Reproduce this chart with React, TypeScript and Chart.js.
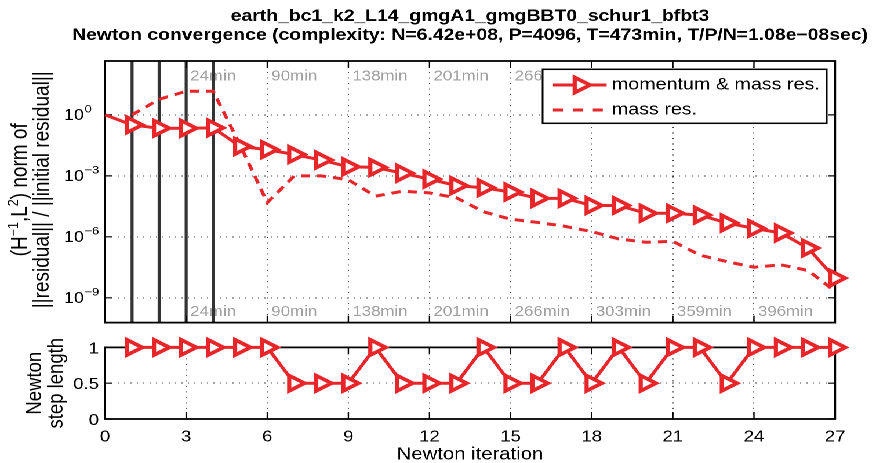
import React, { useEffect, useRef } from "react";
import { Chart, registerables } from "chart.js";

Chart.register(...registerables);

// ---------------- data ----------------
const iterations = [0, 1, 2, 3, 4, 5, 6, 7, 8, 9, 10, 11, 12, 13, 14, 15, 16, 17, 18, 19, 20, 21, 22, 23, 24, 25, 26, 27];
const momentumMassRes = [
  1, 0.32, 0.22, 0.22, 0.23, 0.028, 0.0195, 0.0112, 6.0e-3, 2.8e-3, 2.6e-3, 1.35e-3, 6.9e-4, 3.3e-4,
  2.6e-4, 1.6e-4, 7.8e-5, 7.8e-5, 3.5e-5, 3.5e-5, 1.45e-5, 1.45e-5, 1.17e-5, 4.8e-6, 2.6e-6, 1.55e-6, 2.8e-7, 9.3e-9,
];
const massRes = [
  null, 1.0, 5.8, 14.5, 14.5, 0.032, 4.8e-5, 1.0e-3, 1.0e-3, 6.4e-4, 1.0e-4, 1.75e-4, 1.45e-4, 8.3e-5,
  1.7e-5, 7.4e-6, 5.1e-6, 3.3e-6, 1.8e-6, 7.9e-7, 5.4e-7, 6.0e-7, 1.26e-7, 6.0e-8, 3.2e-8, 4.2e-8, 2.2e-8, 2.1e-9,
];
const stepLength = [
  null, 1, 1, 1, 1, 1, 1, 0.5, 0.5, 0.5, 1, 0.5, 0.5, 0.5, 1, 0.5, 0.5, 1, 0.5, 1, 0.5, 1, 1, 0.5, 1, 1, 1, 1,
];
const xTickValues = [0, 3, 6, 9, 12, 15, 18, 21, 24, 27];
const timeTickIters = [3, 6, 9, 12, 15, 18, 21, 24];
const timeLabels = ["24min", "90min", "138min", "201min", "266min", "303min", "359min", "396min"];
const residualTicks = [1e-9, 1e-6, 1e-3, 1];
const residualTickExp = ["\u22129", "\u22126", "\u22123", "0"];
const stepTicks = [0, 0.5, 1];
const stepTickLabels = ["0", "0.5", "1"];
const lineSearchIters = [1, 2, 3, 4];
const seriesNames = ["momentum & mass res.", "mass res."];
const titleLines = [
  "earth_bc1_k2_L14_gmgA1_gmgBBT0_schur1_bfbt3",
  "Newton convergence (complexity: N=6.42e+08, P=4096, T=473min, T/P/N=1.08e\u221208sec)",
];
const xAxisTitle = "Newton iteration";
const stepAxisTitle = ["Newton", "step length"];

// ---------------- layout ----------------
const W = 765;
const SX = 887 / W;
const H1 = 335;
const H2 = 128;
const PLOT_LEFT = 90.6;
const PLOT_RIGHT = 720.2;
const RED = "#e8262a";
const FONT = "'Liberation Sans', Arial, Helvetica, sans-serif";
const MARKER_R = 8.8;
const MARKER_BW = 3.6;

Chart.defaults.font.family = FONT;

type Part = { t: string; sup?: boolean };

function drawRich(ctx: CanvasRenderingContext2D, parts: Part[], x: number, y: number, base: number, sup: number, raise: number) {
  let w = 0;
  for (const p of parts) {
    ctx.font = `${p.sup ? sup : base}px ${FONT}`;
    w += ctx.measureText(p.t).width;
  }
  let cx = x - w / 2;
  ctx.textAlign = "left";
  ctx.textBaseline = "alphabetic";
  for (const p of parts) {
    ctx.font = `${p.sup ? sup : base}px ${FONT}`;
    ctx.fillText(p.t, cx, p.sup ? y - raise : y);
    cx += ctx.measureText(p.t).width;
  }
}

function drawBox(ctx: CanvasRenderingContext2D, a: any, xp: number[], yp: number[]) {
  ctx.save();
  ctx.strokeStyle = "#000";
  ctx.lineWidth = 1.2;
  ctx.beginPath();
  for (const px of xp) {
    ctx.moveTo(px, a.bottom);
    ctx.lineTo(px, a.bottom - 7);
    ctx.moveTo(px, a.top);
    ctx.lineTo(px, a.top + 7);
  }
  for (const py of yp) {
    ctx.moveTo(a.left, py);
    ctx.lineTo(a.left + 6, py);
    ctx.moveTo(a.right, py);
    ctx.lineTo(a.right - 6, py);
  }
  ctx.stroke();
  ctx.lineWidth = 1.8;
  ctx.strokeRect(a.left, a.top, a.right - a.left, a.bottom - a.top);
  ctx.restore();
}

function drawMarker(ctx: CanvasRenderingContext2D, cx: number, cy: number, r: number) {
  ctx.save();
  ctx.beginPath();
  ctx.moveTo(cx + r, cy);
  ctx.lineTo(cx - r / 2, cy - 0.866 * r);
  ctx.lineTo(cx - r / 2, cy + 0.866 * r);
  ctx.closePath();
  ctx.fillStyle = "#fff";
  ctx.fill();
  ctx.strokeStyle = RED;
  ctx.lineWidth = MARKER_BW;
  ctx.stroke();
  ctx.restore();
}

const gridOpts = { color: "#444", lineWidth: 1, drawTicks: false };
const borderOpts = { display: false, dash: [1, 4.5] };

const topPlugin = {
  id: "topDecor",
  beforeDatasetsDraw(chart: any) {
    const { ctx, chartArea: a, scales } = chart;
    const xs = scales.x;
    const ys = scales.y;
    ctx.save();
    // time labels
    ctx.fillStyle = "#a0a0a0";
    ctx.font = `14.5px ${FONT}`;
    ctx.textAlign = "left";
    ctx.textBaseline = "middle";
    timeTickIters.forEach((it, i) => {
      const px = xs.getPixelForValue(it) + 3.5;
      ctx.fillText(timeLabels[i], px, 76.5);
      ctx.fillText(timeLabels[i], px, 312);
    });
    // line-search lines
    ctx.strokeStyle = "#333";
    ctx.lineWidth = 2.6;
    for (const it of lineSearchIters) {
      const px = xs.getPixelForValue(it);
      ctx.beginPath();
      ctx.moveTo(px, a.top);
      ctx.lineTo(px, a.bottom);
      ctx.stroke();
    }
    ctx.restore();
    drawBox(
      ctx,
      a,
      xTickValues.map((v) => xs.getPixelForValue(v)),
      residualTicks.map((v) => ys.getPixelForValue(v))
    );
    // y tick labels
    ctx.save();
    ctx.fillStyle = "#000";
    residualTicks.forEach((v, i) => {
      const gy = ys.getPixelForValue(v);
      ctx.font = `15.5px ${FONT}`;
      ctx.textAlign = "right";
      ctx.textBaseline = "alphabetic";
      ctx.fillText("10", 72.4, gy + 5);
      ctx.font = `11px ${FONT}`;
      ctx.textAlign = "left";
      ctx.fillText(residualTickExp[i], 73, gy - 2.5);
    });
    ctx.restore();
  },
  afterDatasetsDraw(chart: any) {
    const { ctx, chartArea: a } = chart;
    ctx.save();
    // legend
    const lx0 = 468.0, lx1 = 713.0, ly0 = 69.3, ly1 = 123.3;
    ctx.fillStyle = "#fff";
    ctx.fillRect(lx0, ly0, lx1 - lx0, ly1 - ly0);
    ctx.strokeStyle = "#000";
    ctx.lineWidth = 1.5;
    ctx.strokeRect(lx0, ly0, lx1 - lx0, ly1 - ly0);
    const s0 = 476.9, s1 = 523.2, r1 = 85, r2 = 110;
    ctx.strokeStyle = RED;
    ctx.lineWidth = 3;
    ctx.beginPath();
    ctx.moveTo(s0, r1);
    ctx.lineTo(s1, r1);
    ctx.stroke();
    drawMarker(ctx, (s0 + s1) / 2, r1, MARKER_R);
    ctx.strokeStyle = RED;
    ctx.lineWidth = 3;
    ctx.setLineDash([8.6, 8.6]);
    ctx.beginPath();
    ctx.moveTo(s0, r2);
    ctx.lineTo(s1 + 1, r2);
    ctx.stroke();
    ctx.setLineDash([]);
    ctx.fillStyle = "#000";
    ctx.font = `17px ${FONT}`;
    ctx.textAlign = "left";
    ctx.textBaseline = "middle";
    ctx.fillText(seriesNames[0], 527.6, r1);
    ctx.fillText(seriesNames[1], 527.6, r2);
    // title
    const cx = (a.left + a.right) / 2;
    ctx.font = `bold 16.7px ${FONT}`;
    ctx.textAlign = "center";
    ctx.textBaseline = "alphabetic";
    ctx.fillText(titleLines[0], cx, 21);
    ctx.fillText(titleLines[1], cx, 40);
    // y axis title
    const cy = (a.top + a.bottom) / 2 - 2;
    ctx.save();
    ctx.translate(23.2, cy);
    ctx.rotate(-Math.PI / 2);
    drawRich(ctx, [{ t: "(H" }, { t: "\u22121", sup: true }, { t: ",L" }, { t: "2", sup: true }, { t: ") norm of" }], 0, 0, 19, 12.5, 7.5);
    ctx.restore();
    ctx.save();
    ctx.translate(42.2, cy);
    ctx.rotate(-Math.PI / 2);
    drawRich(ctx, [{ t: "||residual|| / ||initial residual||" }], 0, 0, 19, 12.5, 7.5);
    ctx.restore();
    ctx.restore();
  },
};

const botPlugin = {
  id: "botDecor",
  beforeDatasetsDraw(chart: any) {
    const { ctx, chartArea: a, scales } = chart;
    const xs = scales.x;
    const ys = scales.y;
    drawBox(
      ctx,
      a,
      xTickValues.map((v) => xs.getPixelForValue(v)),
      stepTicks.map((v) => ys.getPixelForValue(v))
    );
    ctx.save();
    ctx.fillStyle = "#000";
    ctx.font = `16px ${FONT}`;
    ctx.textAlign = "center";
    ctx.textBaseline = "alphabetic";
    xTickValues.forEach((v) => {
      ctx.fillText(String(v), xs.getPixelForValue(v), 106.7);
    });
    ctx.textAlign = "right";
    ctx.textBaseline = "middle";
    stepTicks.forEach((v, i) => {
      ctx.fillText(stepTickLabels[i], 85.4, ys.getPixelForValue(v) + 1.5);
    });
    ctx.restore();
  },
  afterDatasetsDraw(chart: any) {
    const { ctx, chartArea: a } = chart;
    ctx.save();
    ctx.fillStyle = "#000";
    ctx.font = `17.5px ${FONT}`;
    ctx.textAlign = "center";
    ctx.textBaseline = "alphabetic";
    ctx.fillText(xAxisTitle, (a.left + a.right) / 2, 124.5);
    const cy = (a.top + a.bottom) / 2;
    ctx.font = `18.5px ${FONT}`;
    ctx.translate(35.5, cy);
    ctx.rotate(-Math.PI / 2);
    ctx.fillText(stepAxisTitle[0], 0, 0);
    ctx.fillText(stepAxisTitle[1], 0, 18.3);
    ctx.restore();
  },
};

function makeTop(canvas: HTMLCanvasElement) {
  return new Chart(canvas, {
    type: "line",
    data: {
      datasets: [
        {
          label: seriesNames[0],
          data: iterations.map((it, i) => ({ x: it, y: momentumMassRes[i] })),
          borderColor: RED,
          borderWidth: 3,
          pointStyle: "triangle",
          rotation: 90,
          pointRadius: iterations.map((it) => (it === 0 ? 0 : MARKER_R)),
          pointBackgroundColor: "#fff",
          pointBorderColor: RED,
          pointBorderWidth: MARKER_BW,
          clip: false,
        },
        {
          label: seriesNames[1],
          data: iterations.map((it, i) => ({ x: it, y: massRes[i] })),
          borderColor: RED,
          borderWidth: 3,
          borderDash: [8, 6],
          pointRadius: 0,
          spanGaps: false,
        },
      ],
    } as any,
    options: {
      animation: false,
      responsive: false,
      devicePixelRatio: 2,
      events: [],
      layout: { padding: { top: 61, right: W - PLOT_RIGHT, bottom: 8, left: 0 } },
      plugins: { legend: { display: false }, title: { display: false }, tooltip: { enabled: false } },
      scales: {
        x: {
          type: "linear",
          min: 0,
          max: 27,
          ticks: { display: false, stepSize: 3 },
          grid: gridOpts,
          border: borderOpts,
          afterBuildTicks: (s: any) => {
            s.ticks = xTickValues.map((v) => ({ value: v }));
          },
          afterFit: (s: any) => {
            s.height = 0;
          },
        },
        y: {
          type: "logarithmic",
          min: Math.pow(10, -10.22),
          max: Math.pow(10, 2.65),
          ticks: { display: false },
          grid: gridOpts,
          border: borderOpts,
          afterBuildTicks: (s: any) => {
            s.ticks = residualTicks.map((v) => ({ value: v }));
          },
          afterFit: (s: any) => {
            s.width = PLOT_LEFT;
          },
        },
      },
    } as any,
    plugins: [topPlugin],
  });
}

function makeBottom(canvas: HTMLCanvasElement) {
  return new Chart(canvas, {
    type: "line",
    data: {
      datasets: [
        {
          label: "step length",
          data: iterations.map((it, i) => ({ x: it, y: stepLength[i] })),
          borderColor: RED,
          borderWidth: 3,
          pointStyle: "triangle",
          rotation: 90,
          pointRadius: MARKER_R,
          pointBackgroundColor: "#fff",
          pointBorderColor: RED,
          pointBorderWidth: MARKER_BW,
          clip: false,
        },
      ],
    } as any,
    options: {
      animation: false,
      responsive: false,
      devicePixelRatio: 2,
      events: [],
      layout: { padding: { top: 12, right: W - PLOT_RIGHT, bottom: 0, left: 0 } },
      plugins: { legend: { display: false }, title: { display: false }, tooltip: { enabled: false } },
      scales: {
        x: {
          type: "linear",
          min: 0,
          max: 27,
          ticks: { display: false },
          grid: gridOpts,
          border: borderOpts,
          afterBuildTicks: (s: any) => {
            s.ticks = xTickValues.map((v) => ({ value: v }));
          },
          afterFit: (s: any) => {
            s.height = 44;
          },
        },
        y: {
          type: "linear",
          min: 0,
          max: 1,
          ticks: { display: false },
          grid: gridOpts,
          border: borderOpts,
          afterBuildTicks: (s: any) => {
            s.ticks = stepTicks.map((v) => ({ value: v }));
          },
          afterFit: (s: any) => {
            s.width = PLOT_LEFT;
          },
        },
      },
    } as any,
    plugins: [botPlugin],
  });
}

export default function App() {
  const topRef = useRef<HTMLCanvasElement>(null);
  const botRef = useRef<HTMLCanvasElement>(null);
  useEffect(() => {
    const c1 = makeTop(topRef.current as HTMLCanvasElement);
    const c2 = makeBottom(botRef.current as HTMLCanvasElement);
    return () => {
      c1.destroy();
      c2.destroy();
    };
  }, []);
  return (
    <div style={{ position: "fixed", left: 0, top: 0, width: 887, height: 463, background: "#fff", overflow: "hidden" }}>
      <div
        style={{
          position: "absolute",
          left: 0,
          top: 0,
          width: W,
          height: H1 + H2,
          transform: `scaleX(${SX})`,
          transformOrigin: "0 0",
        }}
      >
        <canvas ref={topRef} width={W} height={H1} style={{ position: "absolute", left: 0, top: 0, width: W, height: H1 }} />
        <canvas ref={botRef} width={W} height={H2} style={{ position: "absolute", left: 0, top: H1, width: W, height: H2 }} />
      </div>
    </div>
  );
}
